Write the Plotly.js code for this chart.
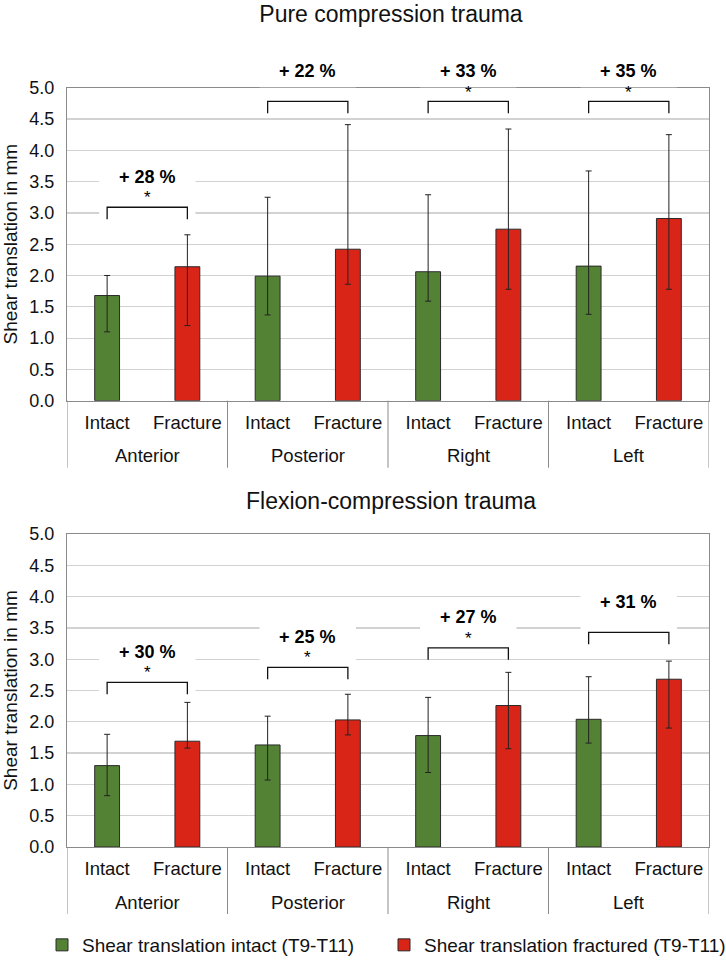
<!DOCTYPE html>
<html>
<head>
<meta charset="utf-8">
<script src="https://cdn.plot.ly/plotly-3.0.1.min.js"></script>
<style>
	html, body { margin: 0; padding: 0; background: #fff; }
	#chart { width: 726px; height: 964px; }
</style>
</head>
<body>
<div id="chart"></div>
<script>
const regions = ["Anterior", "Posterior", "Right", "Left"];
const states = ["Intact", "Fracture"];
const seriesNames = ["Shear translation intact (T9-T11)", "Shear translation fractured (T9-T11)"];

// pure compression trauma
const pureIntact = [1.68, 1.99, 2.06, 2.15];
const pureIntactPlus = [0.32, 1.26, 1.23, 1.52];
const pureIntactMinus = [0.58, 0.62, 0.47, 0.77];
const pureFracture = [2.14, 2.42, 2.74, 2.91];
const pureFracturePlus = [0.51, 1.99, 1.60, 1.34];
const pureFractureMinus = [0.94, 0.56, 0.96, 1.13];
const pureIncrease = ["+ 28 %", "+ 22 %", "+ 33 %", "+ 35 %"];
const pureBracket = [3.09, 4.78, 4.78, 4.78];
const pureSignificant = [true, false, true, true];

// flexion-compression trauma
const flexIntact = [1.30, 1.63, 1.78, 2.04];
const flexIntactPlus = [0.50, 0.46, 0.61, 0.68];
const flexIntactMinus = [0.48, 0.56, 0.59, 0.38];
const flexFracture = [1.69, 2.03, 2.26, 2.68];
const flexFracturePlus = [0.62, 0.41, 0.53, 0.29];
const flexFractureMinus = [0.11, 0.24, 0.69, 0.78];
const flexIncrease = ["+ 30 %", "+ 25 %", "+ 27 %", "+ 31 %"];
const flexBracket = [2.63, 2.87, 3.18, 3.43];
const flexSignificant = [true, true, true, false];

const GREEN = "#548235";
const RED = "#d92518";
const FONT = "Liberation Sans, Arial, sans-serif";
const H = 964;
const YMAX = 5;
const pureDomain = [(H - 400.7) / H, (H - 87.7) / H];
const flexDomain = [(H - 847) / H, (H - 534) / H];

// bar slots: intact at even positions, fracture at odd positions
const intactX = regions.map((r, i) => 2 * i);
const fractureX = regions.map((r, i) => 2 * i + 1);
const tickPos = regions.flatMap((r, i) => [2 * i, 2 * i + 1]);
const tickText = regions.flatMap(() => states);

const makeBars = (xs, vals, plus, minus, color, name, xa, ya, showlegend) => ({
	type: "bar",
	x: xs,
	y: vals,
	name: name,
	xaxis: xa,
	yaxis: ya,
	width: 0.31,
	showlegend: showlegend,
	marker: { color: color, line: { color: "#2a2a2a", width: 1 } },
	error_y: {
		type: "data",
		symmetric: false,
		array: plus,
		arrayminus: minus,
		color: "#222",
		thickness: 1,
		width: 3,
	},
});

const data = [
	makeBars(intactX, pureIntact, pureIntactPlus, pureIntactMinus, GREEN, seriesNames[0], "x", "y", true),
	makeBars(fractureX, pureFracture, pureFracturePlus, pureFractureMinus, RED, seriesNames[1], "x", "y", true),
	makeBars(intactX, flexIntact, flexIntactPlus, flexIntactMinus, GREEN, seriesNames[0], "x2", "y2", false),
	makeBars(fractureX, flexFracture, flexFracturePlus, flexFractureMinus, RED, seriesNames[1], "x2", "y2", false),
];

const shapes = [];
const annotations = [];

// value on a y axis -> paper fraction (labels may sit above the axis range)
const toPaper = (v, dom) => dom[0] + (v / YMAX) * (dom[1] - dom[0]);

// bracket, white label box and text for each comparison
const addBrackets = (tops, labels, sig, xa, ya, dom) => {
	for (let i = 0; i < tops.length; i++) {
		const x0 = 2 * i, x1 = 2 * i + 1, xm = 2 * i + 0.5;
		const top = tops[i];
		shapes.push({
			type: "rect", xref: xa, yref: ya,
			x0: xm - 0.6, x1: xm + 0.6, y0: top - 0.14, y1: top + 0.78,
			fillcolor: "#ffffff", line: { width: 0 }, layer: "above",
		});
		shapes.push({
			type: "path", xref: xa, yref: ya,
			path: `M${x0},${top - 0.19} L${x0},${top} L${x1},${top} L${x1},${top - 0.19}`,
			line: { color: "#111", width: 1.3 }, layer: "above",
		});
		annotations.push({
			xref: xa, yref: "paper", x: xm, y: toPaper(top + 0.49, dom),
			text: `<b>${labels[i]}</b>`, showarrow: false,
			font: { family: FONT, size: 18, color: "#000" },
			yanchor: "middle",
		});
		if (sig[i]) {
			annotations.push({
				xref: xa, yref: "paper", x: xm, y: toPaper(top + 0.15, dom),
				text: "*", showarrow: false,
				font: { family: FONT, size: 17, color: "#000" },
				yanchor: "middle",
			});
		}
	}
};
addBrackets(pureBracket, pureIncrease, pureSignificant, "x", "y", pureDomain);
addBrackets(flexBracket, flexIncrease, flexSignificant, "x2", "y2", flexDomain);

// second row of the category axis: region names and divider lines
const addGroups = (xa, dom) => {
	const axisY = dom[0];
	for (let i = 0; i < regions.length; i++) {
		annotations.push({
			xref: xa, yref: "paper", x: 2 * i + 0.5, y: axisY - 55 / H,
			text: regions[i], showarrow: false,
			font: { family: FONT, size: 18.5, color: "#111" },
			yanchor: "middle",
		});
	}
	for (let i = 0; i <= regions.length; i++) {
		shapes.push({
			type: "line", xref: xa, yref: "paper",
			x0: 2 * i - 0.5, x1: 2 * i - 0.5, y0: axisY, y1: axisY - 67 / H,
			line: { color: "#8a8a8a", width: 1 },
		});
	}
};
addGroups("x", pureDomain);
addGroups("x2", flexDomain);

annotations.push({
	xref: "paper", yref: "paper", x: 391 / 726, y: 1 - 501 / H,
	text: "Flexion-compression trauma", showarrow: false,
	font: { family: FONT, size: 23, color: "#111" },
	xanchor: "center", yanchor: "middle",
});

const xStyle = () => ({
	domain: [67 / 726, 709 / 726],
	range: [-0.5, 7.5],
	tickmode: "array",
	tickvals: tickPos,
	ticktext: tickText,
	showline: true,
	mirror: true,
	linecolor: "#8a8a8a",
	linewidth: 1,
	ticks: "",
	ticklabelstandoff: 5,
	showgrid: false,
	zeroline: false,
	tickfont: { family: FONT, size: 18.5, color: "#111" },
	automargin: false,
	fixedrange: true,
});

const yStyle = (domain) => ({
	domain: domain,
	range: [0, YMAX],
	dtick: 0.5,
	tickformat: ".1f",
	showline: true,
	mirror: true,
	linecolor: "#8a8a8a",
	linewidth: 1,
	gridcolor: "#d2d2d2",
	gridwidth: 1.2,
	zeroline: false,
	ticks: "",
	ticklabelstandoff: 8,
	tickfont: { family: FONT, size: 18, color: "#111" },
	title: { text: "Shear translation in mm", font: { family: FONT, size: 19, color: "#111" }, standoff: 8 },
	automargin: false,
	fixedrange: true,
});

const layout = {
	width: 726,
	height: H,
	margin: { l: 0, r: 0, t: 0, b: 0 },
	paper_bgcolor: "#fff",
	plot_bgcolor: "#fff",
	font: { family: FONT, color: "#111" },
	title: {
		text: "Pure compression trauma",
		font: { family: FONT, size: 23, color: "#111" },
		x: 391 / 726, xanchor: "center",
		y: 1 - 14 / H, yanchor: "middle",
		xref: "paper", yref: "paper",
	},
	barmode: "overlay",
	showlegend: true,
	legend: {
		orientation: "h",
		x: 49 / 726, xanchor: "left",
		y: 1 - 945 / H, yanchor: "middle",
		font: { family: FONT, size: 19, color: "#111" },
		entrywidth: 297,
		entrywidthmode: "pixels",
	},
	xaxis: Object.assign(xStyle(), { anchor: "y" }),
	yaxis: Object.assign(yStyle(pureDomain), { anchor: "x" }),
	xaxis2: Object.assign(xStyle(), { anchor: "y2" }),
	yaxis2: Object.assign(yStyle(flexDomain), { anchor: "x2" }),
	shapes: shapes,
	annotations: annotations,
	hovermode: false,
};

Plotly.newPlot("chart", data, layout, { displayModeBar: false, staticPlot: true });
</script>
</body>
</html>
